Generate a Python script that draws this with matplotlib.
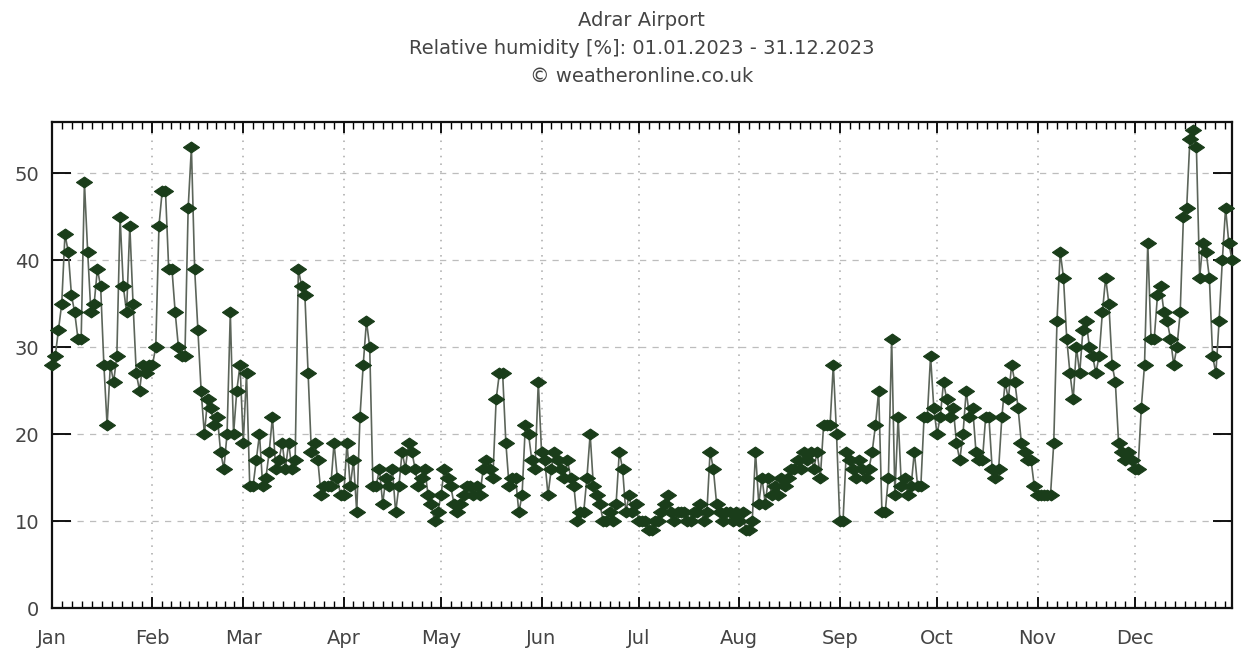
import matplotlib.pyplot as plt
import numpy as np
import pandas as pd

# daily relative humidity [%] at Adrar Airport, 2023
jan = [28, 29, 32, 35, 43, 41, 36, 34, 31, 31, 49, 41, 34, 35, 39, 37, 28, 21, 28, 26,
       29, 45, 37, 34, 44, 35, 27, 25, 28, 27, 28]
feb = [28, 30, 44, 48, 48, 39, 39, 34, 30, 29, 29, 46, 53, 39, 32, 25, 20, 24, 23, 21,
       22, 18, 16, 20, 34, 20, 25, 28]
mar = [19, 27, 14, 14, 17, 20, 14, 15, 18, 22, 16, 17, 19, 16, 19, 16, 17, 39, 37, 36,
       27, 18, 19, 17, 13, 14, 14, 14, 19, 15, 13]
apr = [13, 19, 14, 17, 11, 22, 28, 33, 30, 14, 14, 16, 12, 15, 14, 16, 11, 14, 18, 16,
       19, 18, 16, 14, 15, 16, 13, 12, 10, 11]
may = [13, 16, 15, 14, 12, 11, 12, 13, 14, 14, 13, 14, 13, 16, 17, 16, 15, 24, 27, 27,
       19, 14, 15, 15, 11, 13, 21, 20, 17, 16, 26]
jun = [18, 17, 13, 16, 18, 17, 16, 15, 17, 15, 14, 10, 11, 11, 15, 20, 14, 13, 12, 10,
       10, 11, 10, 12, 18, 16, 11, 13, 11, 12]
jul = [10, 10, 10, 9, 9, 10, 10, 11, 12, 13, 11, 10, 11, 11, 11, 10, 10, 11, 11, 12,
       10, 11, 18, 16, 12, 11, 10, 11, 11, 10, 11]
aug = [10, 11, 9, 9, 10, 18, 12, 15, 12, 15, 13, 14, 13, 15, 14, 15, 16, 16, 17, 16,
       18, 17, 18, 16, 18, 15, 21, 21, 21, 28, 20]
sep = [10, 10, 18, 17, 16, 15, 17, 16, 15, 16, 18, 21, 25, 11, 11, 15, 31, 13, 22, 14,
       15, 13, 14, 18, 14, 14, 22, 22, 29, 23]
oct_ = [20, 22, 26, 24, 22, 23, 19, 17, 20, 25, 22, 23, 18, 17, 17, 22, 22, 16, 15, 16,
        22, 26, 24, 28, 26, 23, 19, 18, 17, 17, 14]
nov = [13, 13, 13, 13, 13, 19, 33, 41, 38, 31, 27, 24, 30, 27, 32, 33, 30, 29, 27, 29,
       34, 38, 35, 28, 26, 19, 18, 17, 18, 17]
dec = [16, 16, 23, 28, 42, 31, 31, 36, 37, 34, 33, 31, 28, 30, 34, 45, 46, 54, 55, 53,
       38, 42, 41, 38, 29, 27, 33, 40, 46, 42, 40]

humidity = jan + feb + mar + apr + may + jun + jul + aug + sep + oct_ + nov + dec
days = pd.date_range("2023-01-01", "2023-12-31", freq="D")
month_labels = ["Jan", "Feb", "Mar", "Apr", "May", "Jun",
                "Jul", "Aug", "Sep", "Oct", "Nov", "Dec"]
y_ticks = [0, 10, 20, 30, 40, 50]

txt = "#444444"
fig = plt.figure(figsize=(12.44, 6.51), dpi=100)
ax = fig.add_axes([0.0418, 0.066, 0.9486, 0.7465])

# flattened diamond marker
diamond = [(-1.0, 0.0), (0.0, 0.68), (1.0, 0.0), (0.0, -0.68), (-1.0, 0.0)]
ax.plot(days, humidity, color="#5c655a", lw=1.2, marker=diamond, ms=11.5,
        mfc="#1a3d1a", mec="#1a3d1a", mew=0.8, clip_on=False, zorder=3)

ax.set_xlim(days[0], days[-1])
ax.set_ylim(0, 55.9)

# month ticks, each month split into ten minor steps
month_starts = pd.date_range("2023-01-01", periods=12, freq="MS")
month_ends = list(month_starts[1:]) + [pd.Timestamp("2024-01-01")]
minor = []
for s, e in zip(month_starts, month_ends):
    step = (e - s) / 10
    minor += [s + k * step for k in range(1, 10)]
ax.set_xticks(month_starts)
ax.set_xticklabels(month_labels)
ax.set_xticks(minor, minor=True)
ax.set_yticks(y_ticks)

ax.tick_params(axis="x", which="major", direction="in", length=8, width=1.3,
               top=True, pad=15, labelsize=14, labelcolor=txt)
ax.tick_params(axis="x", which="minor", direction="in", length=5, width=1.0, top=True)
ax.tick_params(axis="y", direction="in", length=14, width=1.3, right=True,
               pad=9, labelsize=14, labelcolor=txt)

ax.yaxis.grid(True, linestyle=(0, (5, 5)), color="#bdbdbd", lw=0.9)
ax.xaxis.grid(True, which="major", linestyle=(0, (1, 4)), color="#a8a8a8", lw=1.1)
ax.set_axisbelow(True)
for sp in ax.spines.values():
    sp.set_linewidth(1.6)
    sp.set_color("#111111")

fig.text(0.516, 0.969, "Adrar Airport", ha="center", va="center", fontsize=14, color=txt)
fig.text(0.516, 0.926, "Relative humidity [%]: 01.01.2023 - 31.12.2023",
         ha="center", va="center", fontsize=14, color=txt)
fig.text(0.516, 0.882, "\u00a9 weatheronline.co.uk", ha="center", va="center",
         fontsize=14, color=txt)

plt.savefig("out.png", dpi=100)
